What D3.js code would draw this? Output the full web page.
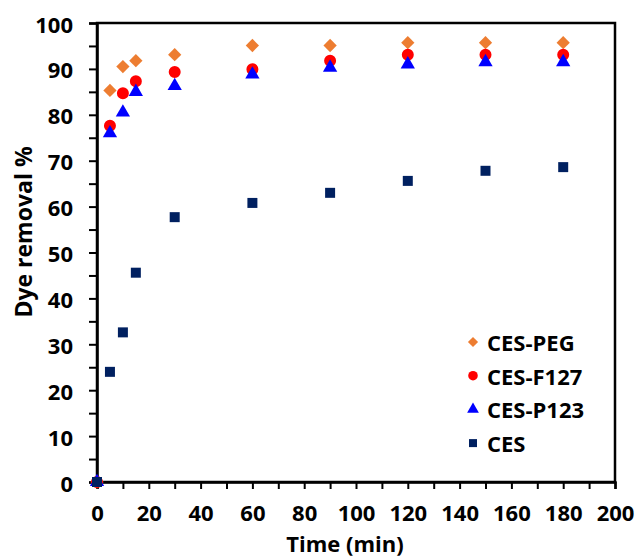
<!DOCTYPE html>
<html>
<head>
<meta charset="utf-8">
<script src="https://cdn.jsdelivr.net/npm/d3@7"></script>
<style>
  html, body { margin: 0; padding: 0; background: #fff; }
  svg { display: block; }
  text { font-family: "Open Sans", Lato, sans-serif; font-weight: 700; fill: #000; }
</style>
</head>
<body>
<svg id="chart" width="638" height="558"></svg>
<script>
const times = [0, 5, 10, 15, 30, 60, 90, 120, 150, 180];
const cesPEG  = [0, 85.3, 90.5, 91.8, 93.1, 95.1, 95.1, 95.7, 95.7, 95.7];
const cesF127 = [0, 77.6, 84.7, 87.3, 89.3, 89.9, 91.8, 93.1, 93.1, 93.1];
const cesP123 = [0, 76.0, 80.5, 85.0, 86.3, 88.8, 90.3, 91.0, 91.5, 91.5];
const ces     = [0, 24.0, 32.6, 45.6, 57.7, 60.8, 63.0, 65.6, 67.8, 68.6];
const seriesNames = ["CES-PEG", "CES-F127", "CES-P123", "CES"];
const seriesColors = ["#ED7D31", "#FF0000", "#0000FF", "#002060"];
const xTickValues = [0, 20, 40, 60, 80, 100, 120, 140, 160, 180, 200];
const yTickValues = [0, 10, 20, 30, 40, 50, 60, 70, 80, 90, 100];
const xLabel = "Time (min)";
const yLabel = "Dye removal %";

const W = 638, H = 558;
const m = { left: 97, top: 23, right: 23, bottom: 76 };
const svg = d3.select("#chart");

const x = d3.scaleLinear().domain([0, 200]).range([m.left, W - m.right]);
const y = d3.scaleLinear().domain([0, 100]).range([H - m.bottom, m.top]);

// frame
svg.append("rect")
  .attr("x", x(0)).attr("y", y(100))
  .attr("width", x(200) - x(0)).attr("height", y(0) - y(100))
  .attr("fill", "none").attr("stroke", "#000").attr("stroke-width", 2.5);

// axes: minor ticks
const xAxisMinor = d3.axisBottom(x).tickValues(d3.range(0, 201, 10)).tickSize(7).tickFormat("");
const yAxisMinor = d3.axisLeft(y).tickValues(d3.range(0, 101, 5)).tickSize(8).tickFormat("");
const gxm = svg.append("g").attr("transform", `translate(0,${y(0)})`).call(xAxisMinor);
const gym = svg.append("g").attr("transform", `translate(${x(0)},0)`).call(yAxisMinor);
[gxm, gym].forEach(g => {
  g.select(".domain").attr("stroke", "#000").attr("stroke-width", 2.5);
  g.selectAll(".tick line").attr("stroke", "#000").attr("stroke-width", 2);
});

// labels
const xAxis = d3.axisBottom(x).tickValues(xTickValues).tickSize(0).tickPadding(24);
const yAxis = d3.axisLeft(y).tickValues(yTickValues).tickSize(0).tickPadding(24);
const gx = svg.append("g").attr("transform", `translate(0,${y(0)})`).call(xAxis);
const gy = svg.append("g").attr("transform", `translate(${x(0)},0)`).call(yAxis);
[gx, gy].forEach(g => {
  g.select(".domain").remove();
  g.selectAll("text").style("font-size", "22px").style("font-family", '"Open Sans", sans-serif').style("font-weight", 700).attr("fill", "#000");
});
gx.selectAll("text").attr("dy", null).attr("y", 0).attr("dominant-baseline", "central").attr("transform", "translate(0,30)");
gy.selectAll("text").attr("dy", null).attr("dominant-baseline", "central");

svg.append("text").attr("x", 345).attr("y", 552)
  .attr("text-anchor", "middle").style("font-size", "22px").text(xLabel);
svg.append("text").attr("transform", "translate(32,232) rotate(-90)")
  .attr("text-anchor", "middle").style("font-size", "23px").text(yLabel);

// symbols
const shapes = [
  { type: d3.symbolSquare, size: 88, rot: 45 },
  { type: d3.symbolCircle, size: 113, rot: 0 },
  { type: d3.symbolTriangle, size: 88, rot: 0 },
  { type: d3.symbolSquare, size: 100, rot: 0 }
];
const legendShapes = [
  { type: d3.symbolSquare, size: 52, rot: 45 },
  { type: d3.symbolCircle, size: 72, rot: 0 },
  { type: d3.symbolTriangle, size: 60, rot: 0 },
  { type: d3.symbolSquare, size: 64, rot: 0 }
];
const allSeries = [cesPEG, cesF127, cesP123, ces];

allSeries.forEach((vals, i) => {
  const sh = shapes[i];
  svg.append("g").selectAll("path")
    .data(times.map((t, j) => ({ t, v: vals[j] })))
    .join("path")
    .attr("d", d3.symbol(sh.type, sh.size))
    .attr("transform", d => `translate(${x(d.t)},${y(d.v)}) rotate(${sh.rot})`)
    .attr("fill", seriesColors[i]);
});

// legend
const lg = svg.append("g");
seriesNames.forEach((name, i) => {
  const cy = 342 + i * 33.7;
  const sh = legendShapes[i];
  lg.append("path")
    .attr("d", d3.symbol(sh.type, sh.size))
    .attr("transform", `translate(473,${cy}) rotate(${sh.rot})`)
    .attr("fill", seriesColors[i]);
  lg.append("text").attr("x", 487).attr("y", cy)
    .attr("dominant-baseline", "central")
    .style("font-size", "22px").text(name);
});
</script>
</body>
</html>
